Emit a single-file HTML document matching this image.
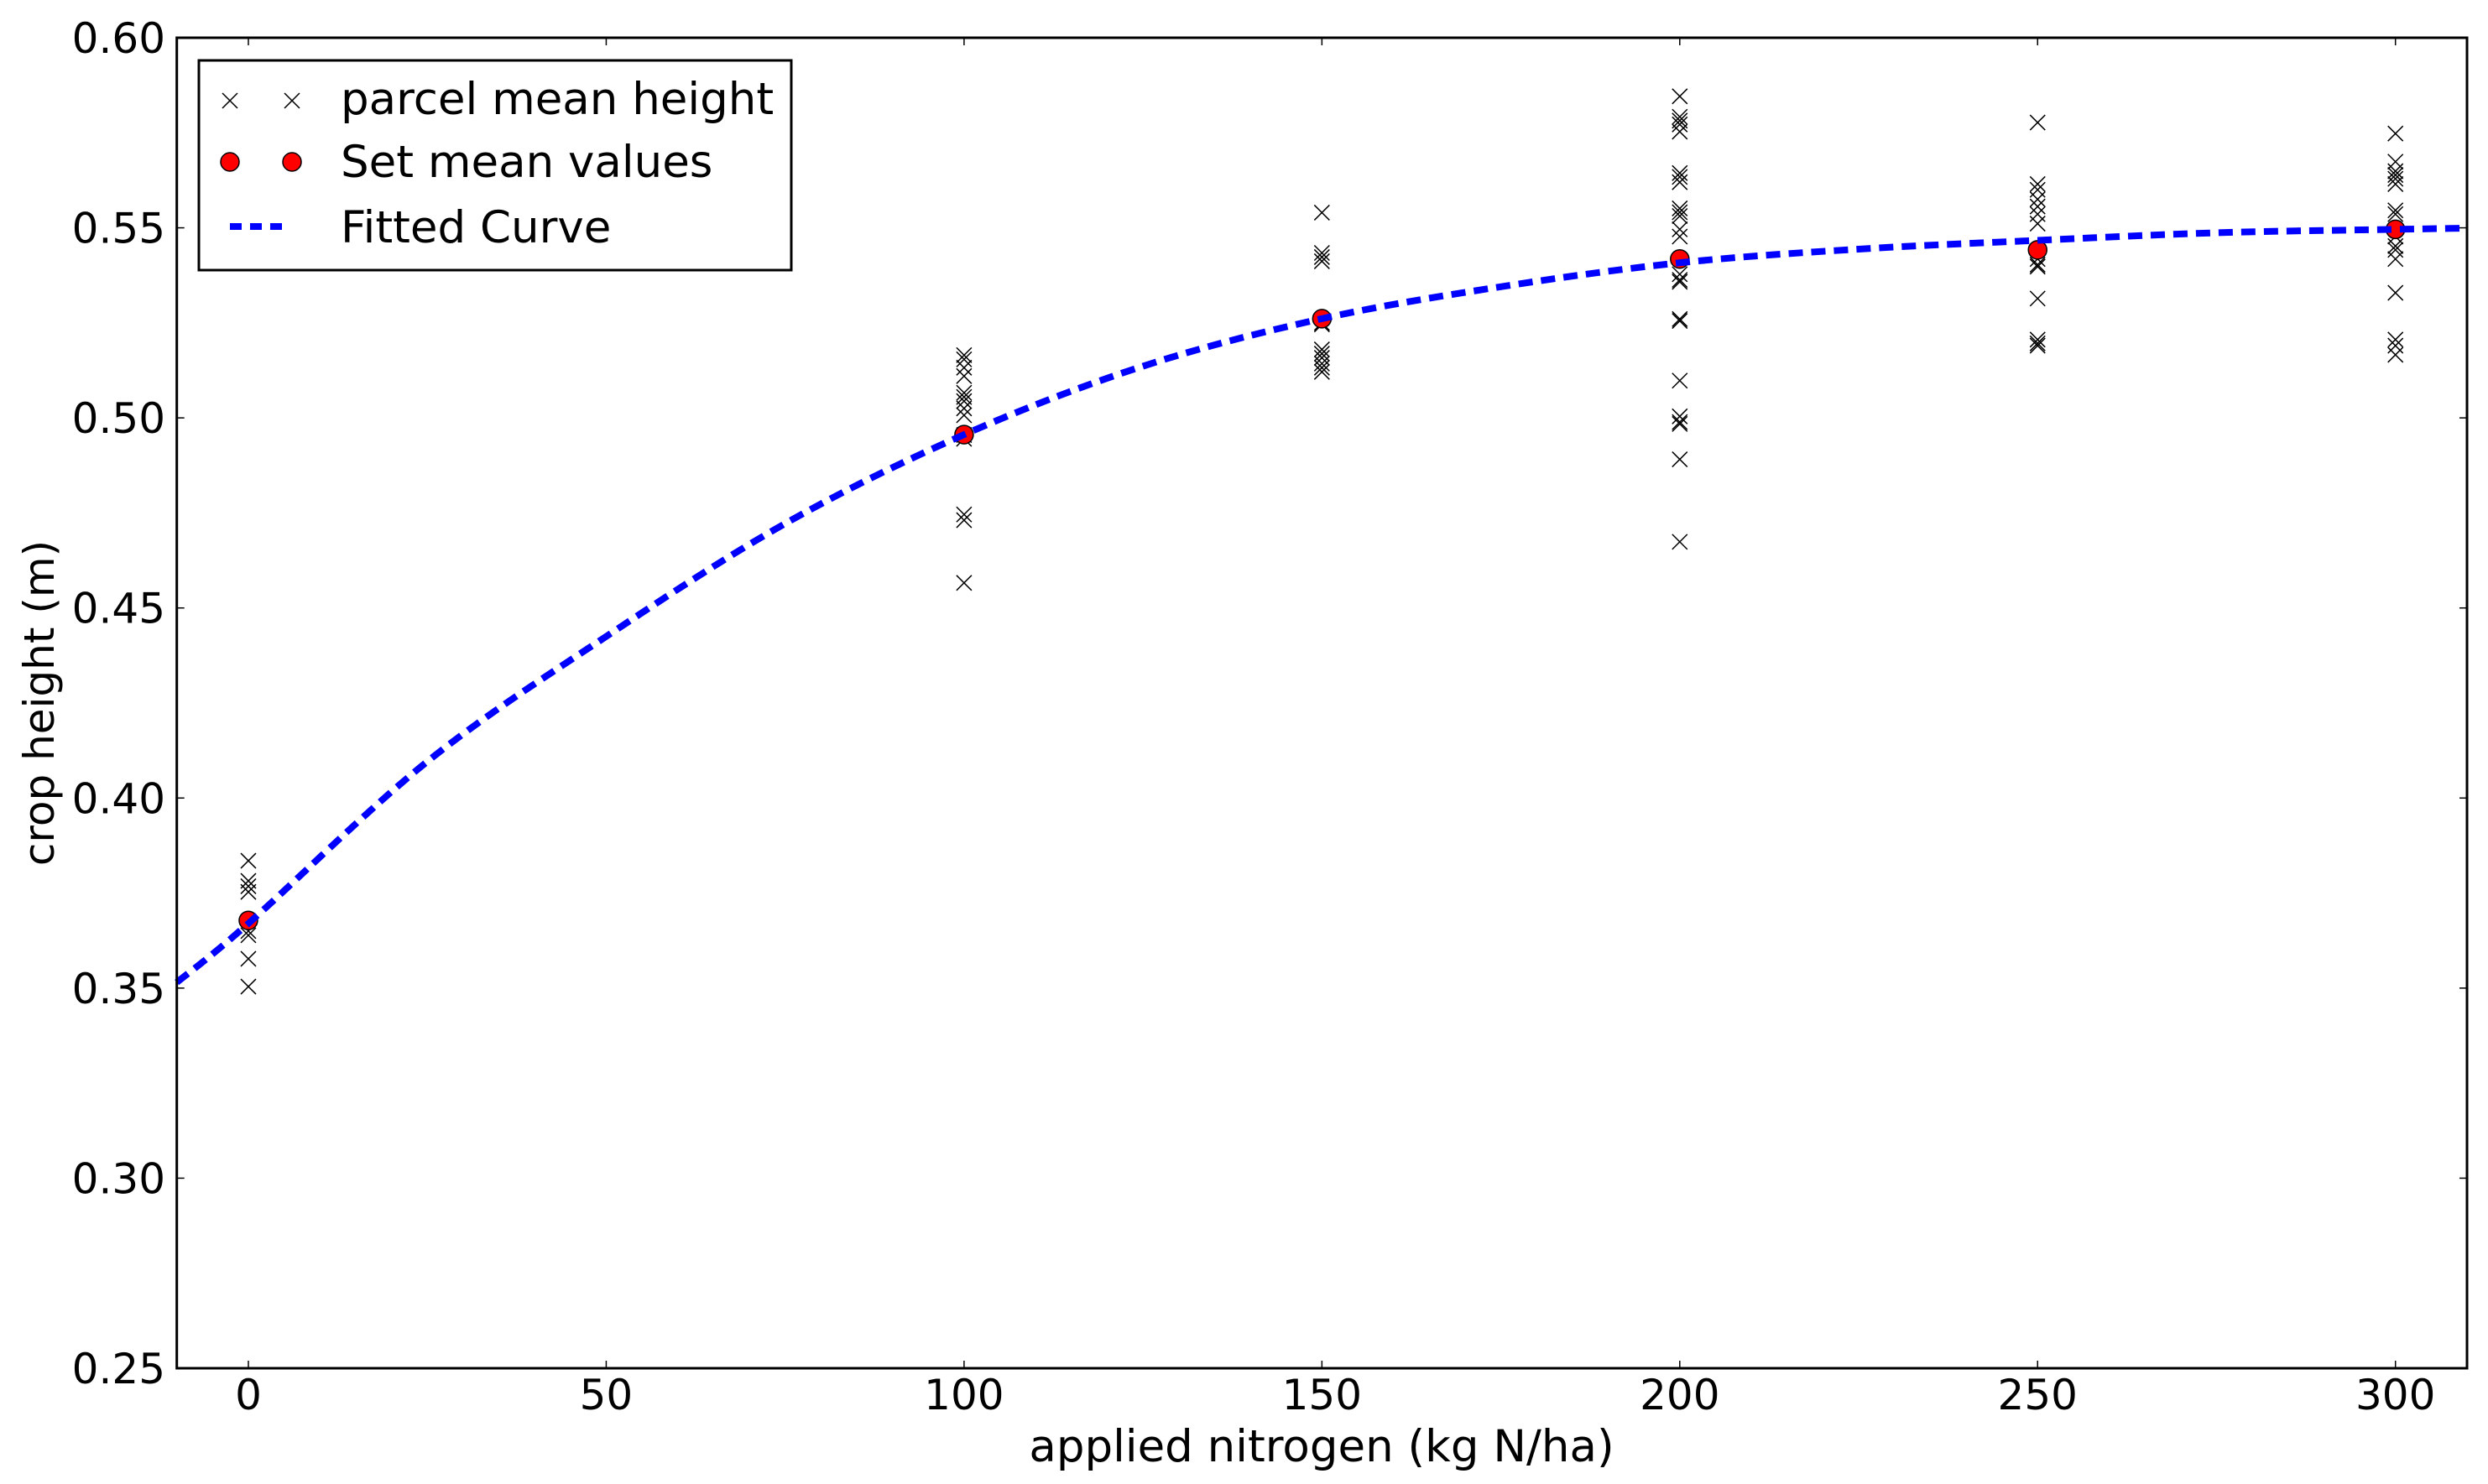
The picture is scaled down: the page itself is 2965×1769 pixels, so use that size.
<!DOCTYPE html>
<html><head><meta charset="utf-8"><style>
html,body{margin:0;padding:0;background:#fff;}
svg{display:block;font-family:"DejaVu Sans","Liberation Sans",sans-serif;}
</style></head><body>
<svg id="chart" width="2965" height="1769" viewBox="0 0 2965 1769" xmlns="http://www.w3.org/2000/svg">
<rect width="2965" height="1769" fill="#fff"/>
<g id="plot"></g>
<g id="axes"></g>
<text x="1575" y="1742" font-size="53" text-anchor="middle">applied nitrogen (kg N/ha)</text>
<text transform="translate(64,838) rotate(-90)" font-size="50" text-anchor="middle">crop height (m)</text>
<g>
<rect x="237" y="72" width="706" height="250" fill="#fff" stroke="#000" stroke-width="3"/>
<g stroke="#000" stroke-width="1.5">
<path d="M265,111 L283,129 M283,111 L265,129 M339,111 L357,129 M357,111 L339,129"/>
</g>
<text x="406" y="136" font-size="53">parcel mean height</text>
<g fill="#f00" stroke="#000" stroke-width="1.5">
<circle cx="274" cy="193" r="11"/><circle cx="348" cy="193" r="11"/>
</g>
<text x="406" y="211" font-size="53">Set mean values</text>
<line x1="274" y1="270" x2="342" y2="270" stroke="#00f" stroke-width="8" stroke-dasharray="14 10"/>
<text x="406" y="289" font-size="53">Fitted Curve</text>
</g>
</svg>
<script>
const xTicks = [0, 50, 100, 150, 200, 250, 300];
const yTicks = [0.25, 0.30, 0.35, 0.40, 0.45, 0.50, 0.55, 0.60];
const yTickLabels = ["0.25","0.30","0.35","0.40","0.45","0.50","0.55","0.60"];
const parcelX0 = [0,0,0,0,0,0,0,0];
const parcelY0 = [0.3835,0.3782,0.3768,0.3753,0.3650,0.3639,0.3577,0.3504];
const parcelX100 = [100,100,100,100,100,100,100,100,100,100,100,100,100,100];
const parcelY100 = [0.5165,0.5154,0.5132,0.5110,0.5066,0.5055,0.5044,0.5025,0.5007,0.4955,0.4945,0.4746,0.4731,0.4566];
const parcelX150 = [150,150,150,150,150,150,150,150,150,150,150,150];
const parcelY150 = [0.5540,0.5434,0.5423,0.5412,0.5250,0.5246,0.5180,0.5169,0.5158,0.5143,0.5132,0.5121];
const parcelX200 = [200,200,200,200,200,200,200,200,200,200,200,200,200,200,200,200,200,200,200,200,200,200,200,200];
const parcelY200 = [0.5846,0.5792,0.5782,0.5772,0.5753,0.5644,0.5634,0.5620,0.5551,0.5541,0.5531,0.5496,0.5477,0.5378,0.5363,0.5358,0.5260,0.5255,0.5098,0.5004,0.4989,0.4984,0.4891,0.4674];
const parcelX250 = [250,250,250,250,250,250,250,250,250,250,250,250,250,250];
const parcelY250 = [0.5777,0.5615,0.5600,0.5575,0.5556,0.5536,0.5511,0.5418,0.5403,0.5398,0.5314,0.5206,0.5196,0.5190];
const parcelX300 = [300,300,300,300,300,300,300,300,300,300,300,300,300,300,300,300];
const parcelY300 = [0.5748,0.5674,0.5649,0.5639,0.5629,0.5615,0.5546,0.5536,0.5477,0.5452,0.5442,0.5418,0.5329,0.5206,0.5190,0.5166];
const meanX = [0, 100, 150, 200, 250, 300];
const meanY = [0.3678, 0.4956, 0.5261, 0.5418, 0.5442, 0.5496];
const curveX = [-10, 0, 25, 50, 75, 100, 125, 150, 175, 200, 225, 250, 275, 300, 310];
const curveY = [0.3515, 0.3670, 0.4096, 0.4425, 0.4722, 0.4956, 0.5136, 0.5261, 0.5345, 0.5408, 0.5444, 0.5467, 0.5487, 0.5496, 0.5499];

const L=210.7, R=2940, T=45, B=1631;
const xMin=-10, xMax=310, yMin=0.25, yMax=0.60;
function sx(v){return L+(v-xMin)/(xMax-xMin)*(R-L);}
function sy(v){return B-(v-yMin)/(yMax-yMin)*(B-T);}
const NS="http://www.w3.org/2000/svg";
function mk(tag, attrs, parent){const e=document.createElementNS(NS,tag);for(const k in attrs)e.setAttribute(k,attrs[k]);parent.appendChild(e);return e;}
const plot=document.getElementById('plot');
const axes=document.getElementById('axes');

const groups=[[parcelX0,parcelY0],[parcelX100,parcelY100],[parcelX150,parcelY150],[parcelX200,parcelY200],[parcelX250,parcelY250],[parcelX300,parcelY300]];
groups.forEach(function(g){
  for(let i=0;i<g[0].length;i++){
    const cx=sx(g[0][i]), cy=sy(g[1][i]);
    const p=mk('path',{d:`M${cx-9},${cy-9}L${cx+9},${cy+9}M${cx+9},${cy-9}L${cx-9},${cy+9}`,stroke:'#000','stroke-width':1.5,fill:'none'},plot);
    
    
  }
});
for(let i=0;i<meanX.length;i++){
  const c=mk('circle',{cx:sx(meanX[i]),cy:sy(meanY[i]),r:11,fill:'#f00',stroke:'#000','stroke-width':1.5},plot);
  
  
}
const pts=curveX.map(function(v,i){return [sx(v),sy(curveY[i])];});
let d='M'+pts[0][0]+','+pts[0][1];
for(let i=0;i<pts.length-1;i++){
  const p0=pts[Math.max(0,i-1)], p1=pts[i], p2=pts[i+1], p3=pts[Math.min(pts.length-1,i+2)];
  const c1x=p1[0]+(p2[0]-p0[0])/6, c1y=p1[1]+(p2[1]-p0[1])/6;
  const c2x=p2[0]-(p3[0]-p1[0])/6, c2y=p2[1]-(p3[1]-p1[1])/6;
  d+=`C${c1x},${c1y} ${c2x},${c2y} ${p2[0]},${p2[1]}`;
}
const cp=mk('path',{d:d,fill:'none',stroke:'#00f','stroke-width':8,'stroke-dasharray':'17 10'},plot);



const frame=mk('rect',{x:L,y:T,width:R-L,height:B-T,fill:'none',stroke:'#000','stroke-width':3},axes);


xTicks.forEach(function(v){
  const x=sx(v);
  mk('line',{x1:x,y1:B,x2:x,y2:B-9,stroke:'#000','stroke-width':1.5},axes);
  mk('line',{x1:x,y1:T,x2:x,y2:T+9,stroke:'#000','stroke-width':1.5},axes);
  const t=mk('text',{x:x,y:1680,'font-size':50,'text-anchor':'middle'},axes);
  t.textContent=String(v);
  
  
});
yTicks.forEach(function(v,i){
  const y=sy(v);
  mk('line',{x1:L,y1:y,x2:L+9,y2:y,stroke:'#000','stroke-width':1.5},axes);
  mk('line',{x1:R,y1:y,x2:R-9,y2:y,stroke:'#000','stroke-width':1.5},axes);
  const t=mk('text',{x:197,y:y+18,'font-size':50,'text-anchor':'end'},axes);
  t.textContent=yTickLabels[i];
  
  
});
</script>
</body></html>
